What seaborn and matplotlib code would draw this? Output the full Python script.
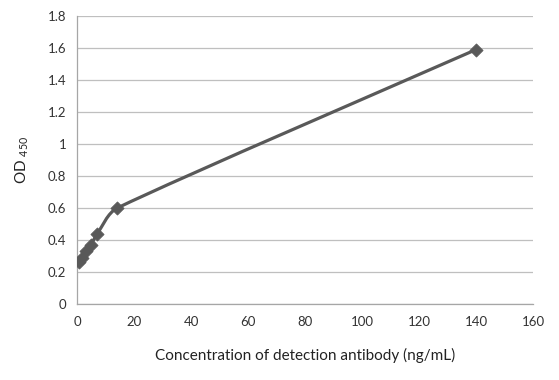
import numpy as np
import pandas as pd
import seaborn as sns
import matplotlib.pyplot as plt
from matplotlib.path import Path
from matplotlib.patches import PathPatch

# data
conc = [0.5, 1.5, 3.0, 4.7, 7.0, 14.0, 140.0]
od450 = [0.26, 0.29, 0.33, 0.37, 0.44, 0.60, 1.59]
x_ticks = [0, 20, 40, 60, 80, 100, 120, 140, 160]
y_ticks = [0, 0.2, 0.4, 0.6, 0.8, 1.0, 1.2, 1.4, 1.6, 1.8]
y_tick_labels = ['0', '0.2', '0.4', '0.6', '0.8', '1', '1.2', '1.4', '1.6', '1.8']

df = pd.DataFrame({'conc': conc, 'od': od450})

sns.set_style('white')
plt.rcParams['font.family'] = ['Lato', 'DejaVu Sans']

fig = plt.figure(figsize=(5.59, 3.80), dpi=100)
ax = fig.add_axes([0.1386, 0.2, 0.815, 0.758])
ax.set_xlim(0, 160)
ax.set_ylim(0, 1.8)

line_col = '#595959'

# smoothed line like excel: catmull-rom done in screen units, handles clamped
sx = 0.815 * 559 / 160
sy = 0.758 * 380 / 1.8
px = df['conc'].values * sx
py = df['od'].values * sy
n = len(px)
verts = [(px[0], py[0])]
codes = [Path.MOVETO]
for i in range(n - 1):
    a, b = max(i - 1, 0), min(i + 2, n - 1)
    seg = np.hypot(px[i + 1] - px[i], py[i + 1] - py[i])
    t1 = np.array([px[i + 1] - px[a], py[i + 1] - py[a]]) / 6
    t2 = np.array([px[b] - px[i], py[b] - py[i]]) / 6
    if np.hypot(*t1) > seg / 3:
        t1 = t1 / np.hypot(*t1) * seg / 3
    if np.hypot(*t2) > seg / 3:
        t2 = t2 / np.hypot(*t2) * seg / 3
    c1 = (px[i] + t1[0], py[i] + t1[1])
    c2 = (px[i + 1] - t2[0], py[i + 1] - t2[1])
    verts += [c1, c2, (px[i + 1], py[i + 1])]
    codes += [Path.CURVE4] * 3
verts = [(vx / sx, vy / sy) for vx, vy in verts]
ax.add_patch(PathPatch(Path(verts, codes), facecolor='none', edgecolor=line_col,
                       lw=2.3, zorder=3, capstyle='round', joinstyle='round'))

sns.scatterplot(data=df, x='conc', y='od', marker='D', s=45, color=line_col,
                edgecolor=line_col, ax=ax, zorder=4)

ax.set_xlim(0, 160)
ax.set_ylim(0, 1.8)
ax.set_xticks(x_ticks)
ax.set_yticks(y_ticks)
ax.set_yticklabels(y_tick_labels)
ax.yaxis.grid(True, color='#bfbfbf', lw=0.9)
ax.set_axisbelow(True)

for s in ['top', 'right']:
    ax.spines[s].set_visible(False)
for s in ['left', 'bottom']:
    ax.spines[s].set_color('#a6a6a6')
    ax.spines[s].set_linewidth(0.9)

ax.tick_params(axis='both', length=5, width=0.9, color='#a6a6a6', labelsize=9.5,
               labelcolor='#333333', direction='out', pad=3)
ax.tick_params(axis='x', pad=4)

ax.set_xlabel('Concentration of detection antibody (ng/mL)', fontsize=11, color='#222222', labelpad=14)
ax.set_ylabel('OD $_{\\mathregular{450}}$', fontsize=11, color='#222222', labelpad=12)

fig.savefig('out.png', dpi=100)
